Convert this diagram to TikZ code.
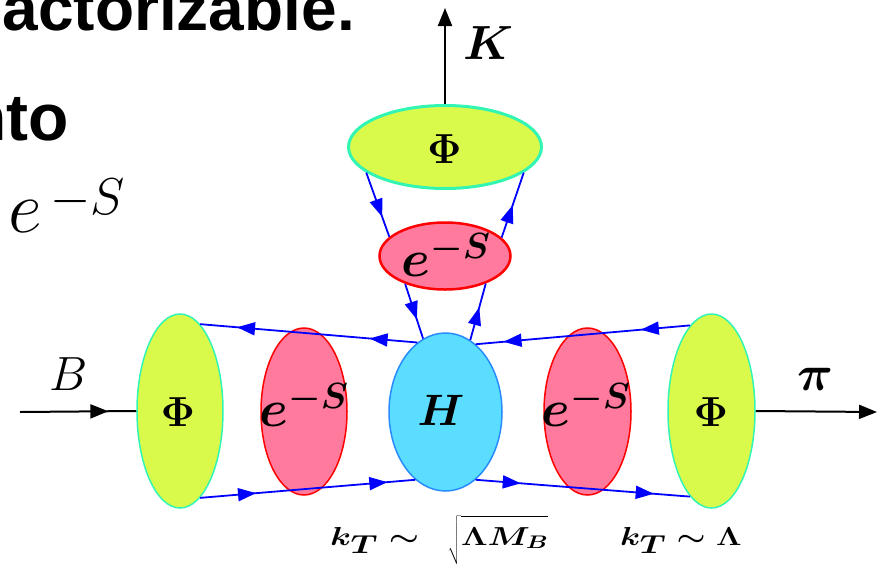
\RequirePackage{fix-cm}
\documentclass[tikz,border=0pt]{standalone}
\usepackage{fontspec}
\usepackage{bm}
\usetikzlibrary{arrows.meta,shapes.geometric,decorations.markings}
\newfontfamily\hdrfont{Liberation Sans}
\definecolor{phifill}{RGB}{217,250,74}
\definecolor{philine}{RGB}{50,245,180}
\definecolor{esfill}{RGB}{255,122,156}
\definecolor{esline}{RGB}{255,0,0}
\definecolor{hfill}{RGB}{91,221,255}
\definecolor{hline}{RGB}{40,140,255}
\definecolor{flowblue}{RGB}{0,0,255}
\tikzset{
  bluetip/.tip={Triangle[length=18pt,width=13pt]},
  blacktip/.tip={Triangle[length=18pt,width=14pt]},
  ell/.style={shape=ellipse, inner sep=0pt},
  phiell/.style={ell, draw=philine, fill=phifill, line width=1.5pt},
  esell/.style={ell, draw=esline, fill=esfill, line width=1.5pt},
  hell/.style={ell, draw=hline, fill=hfill, line width=1.5pt},
  lbl/.style={inner sep=0pt},
  bline/.style={draw=flowblue, line width=1.8pt},
  kline/.style={draw=black, line width=2pt},
  flowtwo/.style 2 args={postaction={decorate}, decoration={markings,
     mark=at position #1 with {\arrow[flowblue]{bluetip}},
     mark=at position #2 with {\arrow[flowblue]{bluetip}}}},
  flowone/.style={postaction={decorate}, decoration={markings,
     mark=at position #1 with {\arrow[flowblue]{bluetip}}}},
  kmid/.style={postaction={decorate}, decoration={markings,
     mark=at position #1 with {\arrow{blacktip}}}},
}
\begin{document}
\begin{tikzpicture}[x=1pt,y=-1pt]
\useasboundingbox (0,0) rectangle (883,563);
\clip (0,0) rectangle (883,563);

% slide text at left
\node[lbl, anchor=base east, font=\hdrfont\bfseries\fontsize{64}{64}\selectfont] (t1) at (355,30) {actorizable.};
\node[lbl, anchor=base east, font=\hdrfont\bfseries\fontsize{66}{66}\selectfont] (t2) at (69,140) {nto};
\node[lbl, anchor=base west, font=\fontsize{74}{74}\selectfont] (t3) at (8,232) {$e^{\,\raisebox{-9pt}{$\scriptstyle -S$}}$};

% blobs
\node[phiell, line width=3pt, minimum width=193pt, minimum height=83pt] (phiK) at (445,147) {};
\node[esell, line width=2.5pt, minimum width=131pt, minimum height=67pt] (eK) at (445,256) {};
\node[hell, minimum width=113pt, minimum height=158pt] (H) at (445.5,412) {};
\node[phiell, minimum width=86pt, minimum height=194pt] (phiL) at (180,411) {};
\node[esell, minimum width=86pt, minimum height=167pt] (eL) at (304,411.5) {};
\node[esell, minimum width=87pt, minimum height=167pt] (eR) at (587.5,411.5) {};
\node[phiell, minimum width=87pt, minimum height=194pt] (phiR) at (711.5,411) {};

% labels in blobs
\node[lbl, font=\fontsize{42}{42}\selectfont] (lphiK) at (444.5,149) {$\bm{\Phi}$};
\node[lbl, font=\fontsize{42}{42}\selectfont] (lphiL) at (178,412) {$\bm{\Phi}$};
\node[lbl, font=\fontsize{42}{42}\selectfont] (lphiR) at (711,412.5) {$\bm{\Phi}$};
\node[lbl, font=\fontsize{52}{52}\selectfont\boldmath] (leK) at (446,255) {$e^{-S}$};
\node[lbl, font=\fontsize{52}{52}\selectfont\boldmath] (leL) at (304,405) {$e^{-S}$};
\node[lbl, font=\fontsize{52}{52}\selectfont\boldmath] (leR) at (586,405) {$e^{-S}$};
\node[lbl, font=\fontsize{44}{44}\selectfont\boldmath] (lH) at (441,410) {$H$};

% quark lines
\draw[bline, flowtwo={0.22}{0.83}] (H.112.4) -- (phiL.77);
\draw[bline, flowtwo={0.26}{0.87}] (phiL.-77) -- (H.-114.2);
\draw[bline, flowtwo={0.23}{0.87}] (phiR.104) -- (H.66.8);
\draw[bline, flowtwo={0.21}{0.83}] (H.-66.5) -- (phiR.-104);
\draw[bline, flowone={0.69}] (phiK.198) -- (eK.161.6);
\draw[bline, flowone={0.65}] (eK.215.8) -- (H.107.9);
\draw[bline, flowone={0.58}] (H.71.9) -- (eK.-34.6);
\draw[bline, flowone={0.5}] (eK.18) -- (phiK.-18);

% external mesons
\coordinate (Bin) at (20,412);
\coordinate (Kout) at (445,8);
\coordinate (piout) at (877,412);
\draw[kline, kmid={0.76}] (Bin) -- (phiL.west);
\draw[kline, -{blacktip}] (phiK.north) -- (Kout);
\draw[kline, -{blacktip}] (phiR.east) -- (piout);
\node[lbl, font=\fontsize{48}{48}\selectfont\boldmath] (lK) at (488,43.5) {$K$};
\node[lbl, font=\fontsize{48}{48}\selectfont] (lB) at (69,374.5) {$B$};
\node[lbl, font=\fontsize{50}{50}\selectfont\boldmath] (lpi) at (815,379) {$\pi$};

% scales
\node[lbl, anchor=base west, font=\fontsize{26}{26}\selectfont\boldmath] (s1) at (330,545)
  {\scalebox{1.3}[1]{$k_{\textstyle T}\sim\mkern8mu\sqrt{\rule[-17pt]{0pt}{43pt}\Lambda M_B}$}};
\node[lbl, anchor=base west, font=\fontsize{26}{26}\selectfont\boldmath] (s2) at (620,545)
  {\scalebox{1.25}[1]{$k_{\textstyle T}\sim\Lambda$}};
\end{tikzpicture}
\end{document}
